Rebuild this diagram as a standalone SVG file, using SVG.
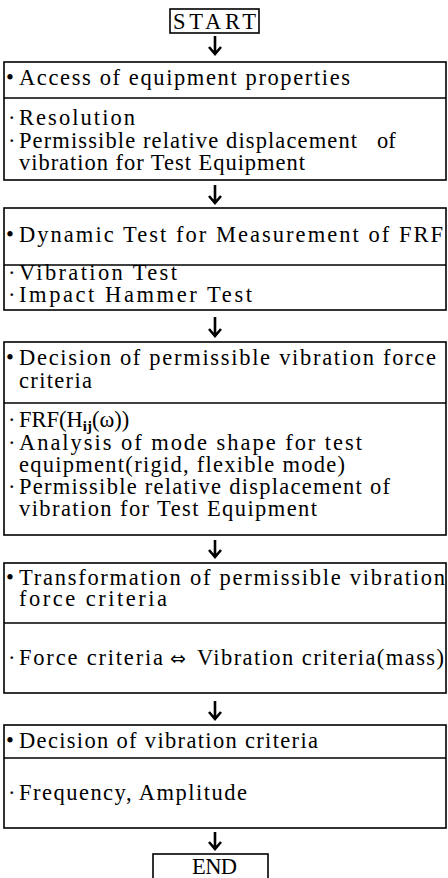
<svg xmlns="http://www.w3.org/2000/svg" width="448" height="878" viewBox="0 0 448 878">
<style>
.box{fill:none;stroke:#000;stroke-width:1.6}
.div{stroke:#000;stroke-width:1.4}
.t{font-family:"Liberation Serif","Times New Roman",serif;font-size:22.5px;fill:#000}
.arr{fill:none;stroke:#000;stroke-width:2.6;stroke-linecap:butt;stroke-linejoin:miter}
</style>
<rect width="448" height="878" fill="#fff"/>
<g id="connectors">
<path class="arr" d="M215,36V54M209,47L215,54L221,47"/>
<path class="arr" d="M215,185V203M209,196L215,203L221,196"/>
<path class="arr" d="M215,317V336M209,329L215,336L221,329"/>
<path class="arr" d="M215,540V557M209,550L215,557L221,550"/>
<path class="arr" d="M215,701V719M209,712L215,719L221,712"/>
<path class="arr" d="M215,832V849M209,842L215,849L221,842"/>
</g>
<g id="start">
<rect class="box" x="170" y="9" width="89" height="24"/>
<text class="t" x="173" y="29" font-size="22" textLength="83" lengthAdjust="spacing">START</text>
</g>
<g id="node1">
<rect class="box" x="4" y="62" width="442" height="118"/>
<line class="div" x1="4" y1="98" x2="446" y2="98"/>
<text class="t" y="85"><tspan x="6">•</tspan><tspan x="19" textLength="331" lengthAdjust="spacing">Access of equipment properties</tspan></text>
<text class="t" y="125"><tspan x="8">·</tspan><tspan x="19" textLength="116" lengthAdjust="spacing">Resolution</tspan><tspan x="8" y="148">·</tspan><tspan x="19" y="148" textLength="338" lengthAdjust="spacing">Permissible relative displacement</tspan><tspan x="377" y="148">of</tspan><tspan x="19" y="170" textLength="286" lengthAdjust="spacing">vibration for Test Equipment</tspan></text>
</g>
<g id="node2">
<rect class="box" x="4" y="208" width="442" height="102"/>
<line class="div" x1="4" y1="265" x2="446" y2="265"/>
<text class="t" y="242"><tspan x="6">•</tspan><tspan x="19" textLength="424" lengthAdjust="spacing">Dynamic Test for Measurement of FRF</tspan></text>
<text class="t" y="280"><tspan x="8">·</tspan><tspan x="19" textLength="158" lengthAdjust="spacing">Vibration Test</tspan><tspan x="8" y="302">·</tspan><tspan x="19" y="302" textLength="233" lengthAdjust="spacing">Impact Hammer Test</tspan></text>
</g>
<g id="node3">
<rect class="box" x="4" y="342" width="442" height="193"/>
<line class="div" x1="4" y1="403" x2="446" y2="403"/>
<text class="t" y="365"><tspan x="6">•</tspan><tspan x="19" textLength="417" lengthAdjust="spacing">Decision of permissible vibration force</tspan><tspan x="19" y="388" textLength="73" lengthAdjust="spacing">criteria</tspan></text>
<text class="t" y="427"><tspan x="8">·</tspan><tspan x="19">FRF(H</tspan><tspan font-size="15" font-weight="bold" dy="4">ij</tspan><tspan dy="-4">(ω))</tspan><tspan x="8" y="450">·</tspan><tspan x="19" y="450" textLength="343" lengthAdjust="spacing">Analysis of mode shape for test</tspan><tspan x="19" y="472" textLength="326" lengthAdjust="spacing">equipment(rigid, flexible mode)</tspan><tspan x="8" y="494">·</tspan><tspan x="19" y="494" textLength="371" lengthAdjust="spacing">Permissible relative displacement of</tspan><tspan x="19" y="516" textLength="298" lengthAdjust="spacing">vibration for Test Equipment</tspan></text>
</g>
<g id="node4">
<rect class="box" x="4" y="563" width="442" height="130"/>
<line class="div" x1="4" y1="623" x2="446" y2="623"/>
<text class="t" y="585"><tspan x="6">•</tspan><tspan x="19" textLength="426" lengthAdjust="spacing">Transformation of permissible vibration</tspan><tspan x="19" y="606" textLength="148" lengthAdjust="spacing">force criteria</tspan></text>
<text class="t" y="665"><tspan x="8">·</tspan><tspan x="19" textLength="144" lengthAdjust="spacing">Force criteria</tspan><tspan x="170" font-family="DejaVu Sans,sans-serif" font-size="19">⇔</tspan><tspan x="197" textLength="247" lengthAdjust="spacing">Vibration criteria(mass)</tspan></text>
</g>
<g id="node5">
<rect class="box" x="4" y="725" width="442" height="103"/>
<line class="div" x1="4" y1="758" x2="446" y2="758"/>
<text class="t" y="748"><tspan x="6">•</tspan><tspan x="19" textLength="299" lengthAdjust="spacing">Decision of vibration criteria</tspan></text>
<text class="t" y="800"><tspan x="8">·</tspan><tspan x="19" textLength="228" lengthAdjust="spacing">Frequency, Amplitude</tspan></text>
</g>
<g id="end">
<rect class="box" x="153" y="854" width="115" height="30"/>
<text class="t" x="192" y="874" font-size="20" textLength="45" lengthAdjust="spacing">END</text>
</g>
</svg>
